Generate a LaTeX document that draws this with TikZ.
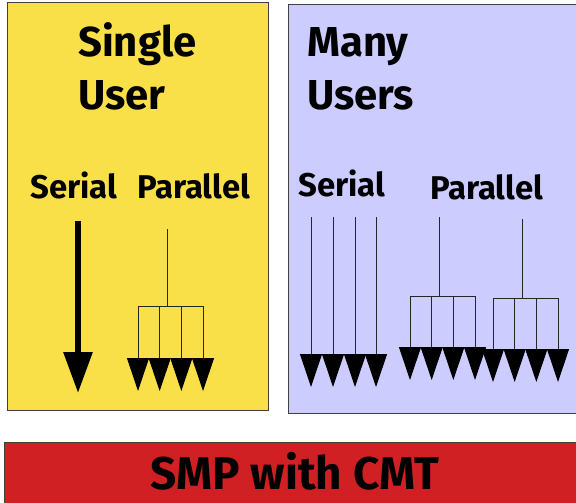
\documentclass[tikz,border=0pt]{standalone}
\usepackage{fontspec}
\setmainfont{Fira Sans}
\usetikzlibrary{arrows.meta}
\definecolor{singleYellow}{RGB}{250,224,72}
\definecolor{manyBlue}{RGB}{204,204,255}
\definecolor{smpRed}{RGB}{208,32,36}
\tikzset{
  panel/.style={draw=black!75,line width=1bp},
  title/.style={anchor=base west,inner sep=0pt,font=\bfseries\fontsize{42}{50}\selectfont},
  kind/.style={anchor=base west,inner sep=0pt,font=\bfseries\fontsize{33}{40}\selectfont},
  fork/.style={draw=black!85,line width=1bp},
  thread/.style={fork,-{Triangle[width=22bp,length=33bp,color=black]}},
  serial/.style={draw=black,line width=6bp,-{Triangle[width=28bp,length=41bp]}},
}
\begin{document}
\begin{tikzpicture}[x=1bp,y=-1bp]
\useasboundingbox (0,0) rectangle (576,503);
% panels
\draw[panel,fill=singleYellow] (7,3) rectangle (268,410);
\draw[panel,fill=manyBlue] (288,5) rectangle (580,413);
\draw[panel,fill=smpRed] (4,442) rectangle (580,510);
% titles
\node[title] (single) at (78,57) {Single};
\node[title] (user) at (78,110) {User};
\node[title] (many) at (307,57) {Many};
\node[title] (users) at (307,110) {Users};
\node[kind] (su-serial) at (30,199) {Serial};
\node[kind] (su-parallel) at (137,199) {Parallel};
\node[kind] (mu-serial) at (298,197) {Serial};
\node[kind] (mu-parallel) at (430,200) {Parallel};
\node[anchor=base,inner sep=0pt,font=\bfseries\fontsize{46}{55}\selectfont] (smp) at (295,489) {SMP with CMT};
% single user, serial
\coordinate (su-top) at (78,221);
\coordinate (su-end) at (78,393);
\draw[serial] (su-top) -- (su-end);
% many users, serial
\foreach \i/\x in {1/311,2/333,3/355,4/376}{
  \coordinate (ms\i-top) at (\x,217);
  \coordinate (ms\i-end) at (\x,387);
  \draw[thread] (ms\i-top) -- (ms\i-end);
}
% forks
\foreach \f/\b/\top/\bar/\tip in {sp/138/229/306/391,mpa/410/217/296/380,mpb/493/219/298/382}{
  \coordinate (\f-top) at (\b+29,\top);
  \coordinate (\f-mid) at (\b+29,\bar);
  \coordinate (\f-l) at (\b,\bar);
  \coordinate (\f-r) at (\b+65,\bar);
  \draw[fork] (\f-top) -- (\f-mid);
  \draw[fork] (\f-l) -- (\f-r);
  \foreach \i in {0,...,3}{
    \coordinate (\f-\i) at (\b+\i*21.67,\bar);
    \coordinate (\f-\i-end) at (\b+\i*21.67,\tip);
    \draw[thread] (\f-\i) -- (\f-\i-end);
  }
}
\end{tikzpicture}
\end{document}
